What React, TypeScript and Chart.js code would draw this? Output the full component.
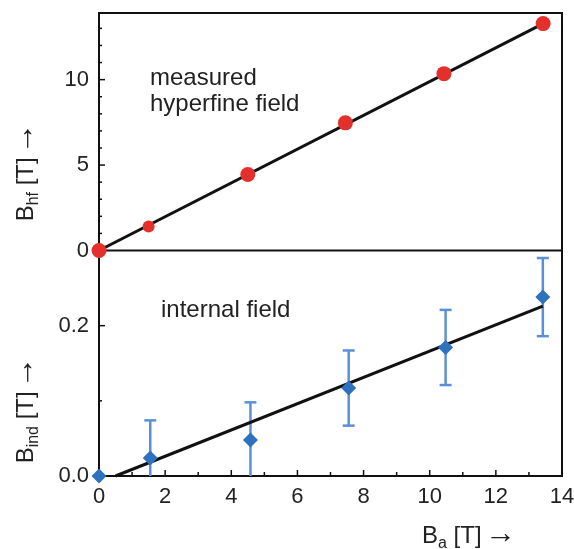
import React, { useEffect, useRef } from 'react';
import { Chart, registerables } from 'chart.js';

Chart.register(...registerables);

const FONT = '"Liberation Sans", Arial, Helvetica, sans-serif';

// Top panel: measured hyperfine field B_hf vs applied field B_a
const hfX = [0, 1.5, 4.5, 7.45, 10.43, 13.43];
const hfY = [0, 1.41, 4.45, 7.47, 10.35, 13.28];
const hfFitX = [0, 13.43];
const hfFitY = [0, 13.28];

// Bottom panel: internal (induced) field B_ind vs applied field B_a
const indX = [0, 1.55, 4.58, 7.55, 10.48, 13.42];
const indY = [0, 0.024, 0.048, 0.117, 0.171, 0.238];
const indErr = [0, 0.05, 0.05, 0.05, 0.05, 0.052];
const indFitX = [0.5, 13.42];
const indFitY = [0, 0.226];

// Axis ranges and labelled ticks
const xRange = [0, 14];
const hfRange = [0, 13.9];
const indRange = [0, 0.3];
const xLabelled = [0, 2, 4, 6, 8, 10, 12, 14];
const hfLabelled = [0, 5, 10];
const indLabelled = [0, 0.2];

const pts = (xs: number[], ys: number[]) => xs.map((x, i) => ({ x, y: ys[i] }));
const near = (v: number, list: number[]) => list.some((t) => Math.abs(t - v) < 1e-6);

type Part = { t: string; s: number; dy?: number; dx?: number; f?: string };

function drawRich(ctx: CanvasRenderingContext2D, parts: Part[], x: number, y: number, rot: number, align: 'left' | 'center') {
  ctx.save();
  ctx.translate(x, y);
  ctx.rotate(rot);
  ctx.textBaseline = 'alphabetic';
  ctx.textAlign = 'left';
  let total = 0;
  const widths = parts.map((p) => {
    ctx.font = `${p.s}px ${p.f || FONT}`;
    const w = ctx.measureText(p.t).width + (p.dx || 0);
    total += w;
    return w;
  });
  let cx = align === 'center' ? -total / 2 : 0;
  parts.forEach((p, i) => {
    ctx.font = `${p.s}px ${p.f || FONT}`;
    ctx.fillText(p.t, cx + (p.dx || 0), p.dy || 0);
    cx += widths[i];
  });
  ctx.restore();
}

const framePlugin = {
  id: 'frame',
  beforeDatasetsDraw(chart: any) {
    const { ctx, chartArea: a, scales } = chart;
    const xs = scales.x;
    const yh = scales.yHf;
    const yi = scales.yInd;
    const seg = (x1: number, y1: number, x2: number, y2: number) => {
      ctx.beginPath();
      ctx.moveTo(x1, y1);
      ctx.lineTo(x2, y2);
      ctx.stroke();
    };
    ctx.save();
    ctx.strokeStyle = '#111';
    ctx.lineWidth = 2;
    ctx.strokeRect(a.left, a.top, a.right - a.left, a.bottom - a.top);
    const sep = yh.getPixelForValue(hfRange[0]);
    seg(a.left, sep, a.right, sep);

    ctx.lineWidth = 1.5;
    yh.ticks.forEach((t: any) => {
      const py = yh.getPixelForValue(t.value);
      const len = near(t.value, hfLabelled) ? 6 : 3;
      seg(a.left, py, a.left + len, py);
    });
    yi.ticks.forEach((t: any) => {
      const py = yi.getPixelForValue(t.value);
      const len = near(t.value, indLabelled) ? 6 : 3;
      seg(a.left, py, a.left + len, py);
    });
    xs.ticks.forEach((t: any) => {
      const px = xs.getPixelForValue(t.value);
      const len = near(t.value, xLabelled) ? 6 : 4;
      seg(px, a.bottom, px, a.bottom - len);
    });

    // error bars of the internal field
    ctx.strokeStyle = '#5b8fd9';
    ctx.lineWidth = 2.5;
    indX.forEach((xv, i) => {
      const e = indErr[i];
      if (!e) return;
      const px = xs.getPixelForValue(xv);
      const hi = yi.getPixelForValue(indY[i] + e);
      const loV = indY[i] - e;
      const lo = yi.getPixelForValue(Math.max(indRange[0], loV));
      seg(px, hi, px, lo);
      seg(px - 6, hi, px + 6, hi);
      if (loV >= indRange[0]) seg(px - 6, lo, px + 6, lo);
    });
    ctx.restore();
  },
};

const textPlugin = {
  id: 'texts',
  afterDraw(chart: any) {
    const { ctx } = chart;
    ctx.save();
    ctx.fillStyle = '#222';
    ctx.font = `24px ${FONT}`;
    ctx.textAlign = 'left';
    ctx.textBaseline = 'alphabetic';
    ctx.fillText('measured', 150, 85);
    ctx.fillText('hyperfine field', 150, 111);
    ctx.fillText('internal field', 161, 317);
    const arrow: Part = { t: '\u2192', s: 31, dy: 0, dx: -3 };
    const unit: Part = { t: ' [T] ', s: 24 };
    drawRich(ctx, [{ t: 'B', s: 24 }, { t: 'hf', s: 16, dy: 5 }, unit, arrow], 33, 172, -Math.PI / 2, 'center');
    drawRich(ctx, [{ t: 'B', s: 24 }, { t: 'ind', s: 16, dy: 5 }, unit, arrow], 33, 410, -Math.PI / 2, 'center');
    drawRich(ctx, [{ t: 'B', s: 24 }, { t: 'a', s: 16, dy: 5 }, unit, arrow], 422, 543, 0, 'left');
    ctx.restore();
  },
};

const zeroPad = (s: any) => {
  s.paddingTop = 0;
  s.paddingBottom = 0;
  s.paddingLeft = 0;
  s.paddingRight = 0;
};

export default function App() {
  const ref = useRef<HTMLCanvasElement | null>(null);
  useEffect(() => {
    if (!ref.current) return;
    const tickFont = { family: FONT, size: 22 };
    const noGrid = { display: false, drawTicks: false, tickLength: 0 };
    const chart = new Chart(ref.current, {
      type: 'scatter',
      data: {
        datasets: [
          {
            label: 'hf fit',
            data: pts(hfFitX, hfFitY),
            showLine: true,
            borderColor: '#111',
            borderWidth: 3,
            pointRadius: 0,
            yAxisID: 'yHf',
            order: 3,
            clip: false,
          } as any,
          {
            label: 'measured hyperfine field',
            data: pts(hfX, hfY),
            backgroundColor: '#e3302d',
            borderWidth: 0,
            pointRadius: [7.5, 6, 7.5, 7.5, 7.5, 7.5],
            yAxisID: 'yHf',
            order: 1,
            clip: false,
          },
          {
            label: 'ind fit',
            data: pts(indFitX, indFitY),
            showLine: true,
            borderColor: '#111',
            borderWidth: 3,
            pointRadius: 0,
            yAxisID: 'yInd',
            order: 3,
            clip: false,
          } as any,
          {
            label: 'internal field',
            data: pts(indX, indY),
            backgroundColor: '#2e72bd',
            borderWidth: 0,
            pointStyle: 'rectRot',
            pointRadius: 7.5,
            yAxisID: 'yInd',
            order: 1,
            clip: false,
          },
        ],
      },
      options: {
        responsive: false,
        animation: false,
        events: [],
        layout: { padding: { left: 0, right: 12, top: 13, bottom: 0 } },
        plugins: { legend: { display: false }, tooltip: { enabled: false } },
        scales: {
          x: {
            type: 'linear',
            position: 'bottom',
            min: xRange[0],
            max: xRange[1],
            grid: noGrid,
            border: { display: false },
            ticks: {
              stepSize: 1,
              autoSkip: false,
              maxRotation: 0,
              padding: 8,
              color: '#222',
              font: tickFont,
              callback: (v: any) => (near(Number(v), xLabelled) ? String(v) : ''),
            },
            afterFit: (s: any) => {
              s.height = 73;
              zeroPad(s);
            },
          },
          yInd: {
            type: 'linear',
            position: 'left',
            stack: 'panels',
            stackWeight: 225.5,
            min: indRange[0],
            max: indRange[1],
            grid: noGrid,
            border: { display: false },
            ticks: {
              stepSize: 0.1,
              includeBounds: false,
              autoSkip: false,
              padding: 10,
              color: '#222',
              font: tickFont,
              callback: (v: any) => (near(Number(v), indLabelled) ? Number(v).toFixed(1) : ''),
            },
            afterFit: (s: any) => {
              s.width = 99;
              zeroPad(s);
            },
          },
          yHf: {
            type: 'linear',
            position: 'left',
            stack: 'panels',
            stackWeight: 237.5,
            min: hfRange[0],
            max: hfRange[1],
            grid: noGrid,
            border: { display: false },
            ticks: {
              stepSize: 1,
              includeBounds: false,
              autoSkip: false,
              padding: 10,
              color: '#222',
              font: tickFont,
              callback: (v: any) => (near(Number(v), hfLabelled) ? String(v) : ''),
            },
            afterFit: (s: any) => {
              s.width = 99;
              zeroPad(s);
            },
          },
        },
      } as any,
      plugins: [framePlugin, textPlugin],
    });
    return () => chart.destroy();
  }, []);
  return (
    <div style={{ position: 'absolute', left: 0, top: 0, width: 574, height: 549, background: '#fff' }}>
      <canvas ref={ref} width={574} height={549} style={{ width: 574, height: 549, display: 'block' }} />
    </div>
  );
}
